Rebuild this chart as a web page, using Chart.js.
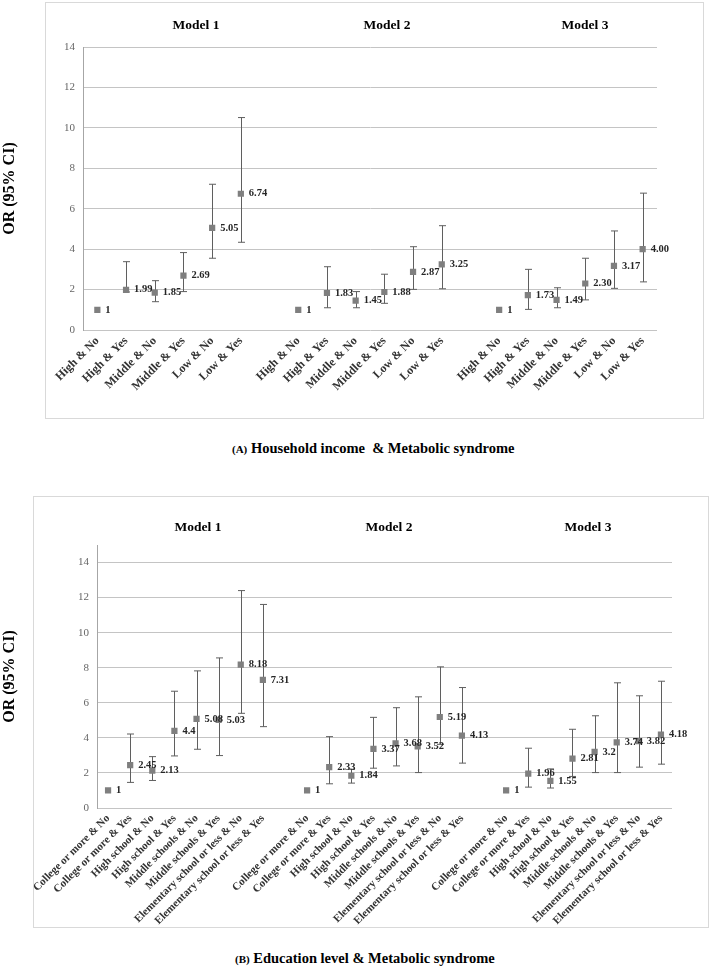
<!DOCTYPE html>
<html>
<head>
<meta charset="utf-8">
<script src="https://cdn.jsdelivr.net/npm/chart.js@4/dist/chart.umd.min.js"></script>
<style>
    body { margin: 0; background: #fff; width: 709px; height: 973px; position: relative; overflow: hidden; font-family: 'Liberation Serif', serif; }
    .box { position: absolute; border: 1px solid #d9d9d9; box-sizing: border-box; }
    canvas { position: absolute; left: 0; }
    .model { position: absolute; font-weight: bold; font-size: 13.5px; transform: translateX(-50%); white-space: nowrap; }
    .caption { position: absolute; font-weight: bold; font-size: 14.5px; white-space: pre; }
    .caption small { font-size: 11px; }
</style>
</head>
<body>
<div class="box" style="left:45px; top:2px; width:659px; height:417px;"></div>
<div class="box" style="left:33px; top:496px; width:676px; height:432px;"></div>

<canvas id="incomeChart" width="709" height="420" style="top:0;"></canvas>
<canvas id="eduChart" width="709" height="450" style="top:480px;"></canvas>

<div class="model" style="left:196px; top:17px;">Model 1</div>
<div class="model" style="left:387px; top:17px;">Model 2</div>
<div class="model" style="left:585px; top:17px;">Model 3</div>

<div class="model" style="left:198px; top:519px;">Model 1</div>
<div class="model" style="left:389px; top:519px;">Model 2</div>
<div class="model" style="left:588px; top:519px;">Model 3</div>

<div class="caption" style="left:232px; top:440px;"><small>(A)</small> Household income  &amp; Metabolic syndrome</div>
<div class="caption" style="left:235px; top:950px;"><small>(B)</small> Education level &amp; Metabolic syndrome</div>

<script>
// (A) Household income
const incomeCats = ['High & No', 'High & Yes', 'Middle & No', 'Middle & Yes', 'Low & No', 'Low & Yes'];
const incomeOR1 = ['1', '1.99', '1.85', '2.69', '5.05', '6.74'];
const incomeLo1 = [null, 1.88, 1.40, 1.90, 3.55, 4.34];
const incomeHi1 = [null, 3.38, 2.44, 3.83, 7.21, 10.51];
const incomeOR2 = ['1', '1.83', '1.45', '1.88', '2.87', '3.25'];
const incomeLo2 = [null, 1.10, 1.10, 1.32, 2.01, 2.04];
const incomeHi2 = [null, 3.13, 1.90, 2.76, 4.12, 5.16];
const incomeOR3 = ['1', '1.73', '1.49', '2.30', '3.17', '4.00'];
const incomeLo3 = [null, 1.02, 1.10, 1.49, 2.06, 2.38];
const incomeHi3 = [null, 3.00, 2.09, 3.55, 4.90, 6.77];

// (B) Education level
const eduCats = ['College or more & No', 'College or more & Yes', 'High school & No', 'High school & Yes',
    'Middle schools & No', 'Middle schools & Yes', 'Elementary school or less & No', 'Elementary school or less & Yes'];
const eduOR1 = ['1', '2.45', '2.13', '4.4', '5.08', '5.03', '8.18', '7.31'];
const eduLo1 = [null, 1.46, 1.57, 2.97, 3.35, 2.99, 5.40, 4.64];
const eduHi1 = [null, 4.22, 2.93, 6.66, 7.82, 8.56, 12.40, 11.61];
const eduOR2 = ['1', '2.33', '1.84', '3.37', '3.68', '3.52', '5.19', '4.13'];
const eduLo2 = [null, 1.38, 1.42, 2.27, 2.40, 2.02, 3.63, 2.56];
const eduHi2 = [null, 4.07, 2.21, 5.17, 5.72, 6.34, 8.05, 6.87];
const eduOR3 = ['1', '1.96', '1.55', '2.81', '3.2', '3.74', '3.82', '4.18'];
const eduLo3 = [null, 1.19, 1.14, 1.80, 2.02, 2.02, 2.33, 2.50];
const eduHi3 = [null, 3.41, 2.23, 4.49, 5.26, 7.14, 6.40, 7.23];

const yTicks = { min: 0, max: 14, step: 2 };

// three models side by side with an empty slot between them
function joinModels(a, b, c, gap) {
    return [...a, gap, ...b, gap, ...c];
}

const errorBars = {
    id: 'errorBars',
    beforeDatasetsDraw(chart) {
        const ctx = chart.ctx;
        const x = chart.scales.x, y = chart.scales.y;
        chart.data.datasets.forEach(ds => {
            ctx.save();
            ctx.strokeStyle = '#5f5f5f';
            ctx.lineWidth = 1;
            ds.lower.forEach((lo, i) => {
                const hi = ds.upper[i];
                if (lo == null || hi == null) return;
                const px = Math.round(x.getPixelForValue(i)) + 0.5;
                const y1 = y.getPixelForValue(lo), y2 = y.getPixelForValue(hi);
                ctx.beginPath();
                ctx.moveTo(px, y1); ctx.lineTo(px, y2);
                ctx.moveTo(px - 3.5, y1); ctx.lineTo(px + 3.5, y1);
                ctx.moveTo(px - 3.5, y2); ctx.lineTo(px + 3.5, y2);
                ctx.stroke();
            });
            ctx.restore();
        });
    }
};

const valueLabels = {
    id: 'valueLabels',
    afterDatasetsDraw(chart) {
        const ctx = chart.ctx;
        chart.data.datasets.forEach((ds, di) => {
            const meta = chart.getDatasetMeta(di);
            ctx.save();
            ctx.font = 'bold 10.5px "Liberation Serif"';
            ctx.fillStyle = '#262626';
            ctx.textBaseline = 'middle';
            meta.data.forEach((pt, i) => {
                if (ds.text[i] == null) return;
                ctx.fillText(ds.text[i], pt.x + 8, pt.y);
            });
            ctx.restore();
        });
    }
};

function makeChart(id, cats, ors, los, his, opts) {
    const text = joinModels(ors[0], ors[1], ors[2], null);
    new Chart(document.getElementById(id), {
        type: 'line',
        data: {
            labels: joinModels(cats, cats, cats, ''),
            datasets: [{
                data: text.map(v => v == null ? null : Number(v)),
                text: text,
                lower: joinModels(los[0], los[1], los[2], null),
                upper: joinModels(his[0], his[1], his[2], null),
                showLine: false,
                pointStyle: 'rect',
                pointRadius: 4.4,
                pointBackgroundColor: '#7f7f7f',
                pointBorderColor: '#7f7f7f',
                pointBorderWidth: 0
            }]
        },
        options: {
            responsive: false,
            animation: false,
            layout: { padding: opts.padding },
            plugins: { legend: { display: false }, tooltip: { enabled: false } },
            scales: {
                x: {
                    offset: true,
                    grid: { display: false, drawTicks: false },
                    border: { display: false },
                    ticks: {
                        autoSkip: false,
                        minRotation: 45,
                        maxRotation: 45,
                        padding: 4,
                        color: '#333333',
                        font: { family: 'Liberation Serif', weight: 'bold', size: opts.xFont }
                    },
                    afterFit: s => { s.height = opts.xHeight; }
                },
                y: {
                    min: yTicks.min,
                    max: opts.yMax,
                    grid: {
                        drawTicks: false,
                        color: c => c.tick && c.tick.value > yTicks.max ? 'rgba(0,0,0,0)' : '#c4c4c4'
                    },
                    border: { display: true, color: '#a6a6a6' },
                    ticks: {
                        stepSize: yTicks.step,
                        padding: 8,
                        color: '#666666',
                        font: { family: 'Liberation Serif', size: 11 },
                        callback: v => v > yTicks.max ? '' : v
                    },
                    title: {
                        display: true,
                        text: 'OR (95% CI)',
                        color: '#000',
                        padding: 0,
                        font: { family: 'Liberation Serif', weight: 'bold', size: 16 }
                    },
                    afterFit: s => { s.width = opts.yWidth; }
                }
            }
        },
        plugins: [errorBars, valueLabels]
    });
}

makeChart('incomeChart', incomeCats,
    [incomeOR1, incomeOR2, incomeOR3], [incomeLo1, incomeLo2, incomeLo3], [incomeHi1, incomeHi2, incomeHi3],
    { padding: { top: 47, right: 52, bottom: 2, left: 0 }, xHeight: 88, yWidth: 83, yMax: 14, xFont: 12 });

makeChart('eduChart', eduCats,
    [eduOR1, eduOR2, eduOR3], [eduLo1, eduLo2, eduLo3], [eduHi1, eduHi2, eduHi3],
    { padding: { top: 65, right: 37, bottom: 2, left: 0 }, xHeight: 120, yWidth: 97, yMax: 15, xFont: 11 });
</script>
</body>
</html>
